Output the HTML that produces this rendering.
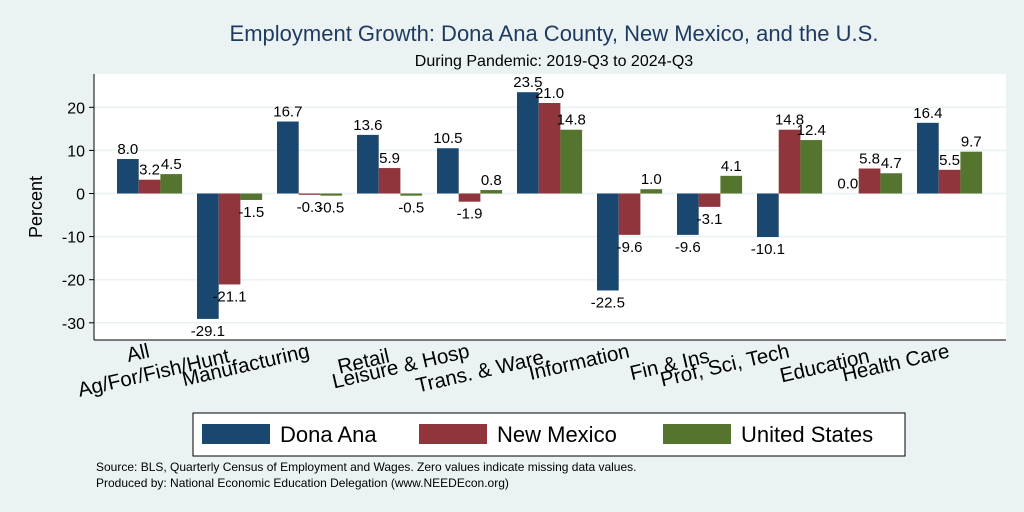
<!DOCTYPE html>
<html><head><meta charset="utf-8"><style>
body{margin:0;background:#eaf2f3;}
svg{display:block;font-family:"Liberation Sans",Arial,sans-serif;}
</style></head><body>
<svg id="c" width="1024" height="512">
<rect width="1024" height="512" fill="#eaf2f3"/>
<text x="554" y="41" font-size="22" fill="#1e3a5f" text-anchor="middle">Employment Growth: Dona Ana County, New Mexico, and the U.S.</text>
<text x="554" y="66" font-size="16" fill="#000" text-anchor="middle">During Pandemic: 2019-Q3 to 2024-Q3</text>
<rect x="94" y="74" width="912" height="266" fill="#fff"/>
<g id="grid"></g>
<g id="bars"></g>
<g id="vals"></g>
<line x1="94" y1="74" x2="94" y2="340" stroke="#000" stroke-width="1"/>
<line x1="94" y1="340" x2="1006" y2="340" stroke="#000" stroke-width="1"/>
<g id="xl"></g>
<text transform="translate(42,207) rotate(-90)" font-size="18" text-anchor="middle">Percent</text>
<g>
<rect x="193" y="413" width="712" height="43" fill="#fff" stroke="#000" stroke-width="1"/>
<rect x="202" y="424" width="68" height="20" fill="#1a476f"/>
<text x="280" y="442" font-size="22">Dona Ana</text>
<rect x="419" y="424" width="68" height="20" fill="#90353b"/>
<text x="497" y="442" font-size="22">New Mexico</text>
<rect x="663" y="424" width="68" height="20" fill="#55752f"/>
<text x="741" y="442" font-size="22">United States</text>
</g>
<text x="96" y="471" font-size="12">Source: BLS, Quarterly Census of Employment and Wages. Zero values indicate missing data values.</text>
<text x="96" y="487" font-size="12">Produced by: National Economic Education Delegation (www.NEEDEcon.org)</text>
</svg>
<script>
const categories=["All","Ag/For/Fish/Hunt","Manufacturing","Retail","Leisure & Hosp","Trans. & Ware.","Information","Fin & Ins","Prof, Sci, Tech","Education","Health Care"];
const donaAna=[8.0,-29.1,16.7,13.6,10.5,23.5,-22.5,-9.6,-10.1,0.0,16.4];
const newMexico=[3.2,-21.1,-0.3,5.9,-1.9,21.0,-9.6,-3.1,14.8,5.8,5.5];
const unitedStates=[4.5,-1.5,-0.5,-0.5,0.8,14.8,1.0,4.1,12.4,4.7,9.7];
const yTicks=[-30,-20,-10,0,10,20];
const NS="http://www.w3.org/2000/svg";
const y=v=>193.5-v*4.31;
const gx=i=>117+i*80;
const bw=21.7;
function mk(t,a,p){const e=document.createElementNS(NS,t);for(const k in a)e.setAttribute(k,a[k]);p.appendChild(e);return e;}
const grid=document.getElementById('grid'),bars=document.getElementById('bars'),vals=document.getElementById('vals'),xl=document.getElementById('xl'),svg=document.getElementById('c');
yTicks.forEach(t=>{
  const l=mk('line',{x1:94,x2:1006,y1:y(t),y2:y(t),stroke:'#eaf2f3','stroke-width':1.5},grid);
  
  
  const k=mk('line',{x1:89,x2:94,y1:y(t),y2:y(t),stroke:'#000'},svg);
  
  
  const tx=mk('text',{x:85,y:y(t)+6,'font-size':16,'text-anchor':'end'},svg);
  tx.textContent=t;
  
  
});
const series=[[donaAna,'#1a476f','dona-ana'],[newMexico,'#90353b','new-mexico'],[unitedStates,'#55752f','united-states']];
categories.forEach((c,i)=>{
  series.forEach(([arr,col,nm],s)=>{
    const v=arr[i],x=gx(i)+s*bw;
    const top=Math.min(y(v),y(0)),h=Math.max(Math.abs(y(v)-y(0)),0.01);
    const r=mk('rect',{x:x,y:top,width:bw,height:h,fill:col},bars);
    
    
    const t=mk('text',{x:x+bw/2,y:v>=0?y(v)-5:y(v)+17,'font-size':15,'text-anchor':'middle'},vals);
    t.textContent=v.toFixed(1);
    
    
  });
  const cx=gx(i)+1.5*bw+1, ly=i%2===0?357:362;
  const t=mk('text',{x:cx,y:ly,'font-size':20.5,'text-anchor':'end',transform:`rotate(-13 ${cx} ${ly})`},xl);
  t.textContent=c;
  
  
});
</script>
</body></html>
